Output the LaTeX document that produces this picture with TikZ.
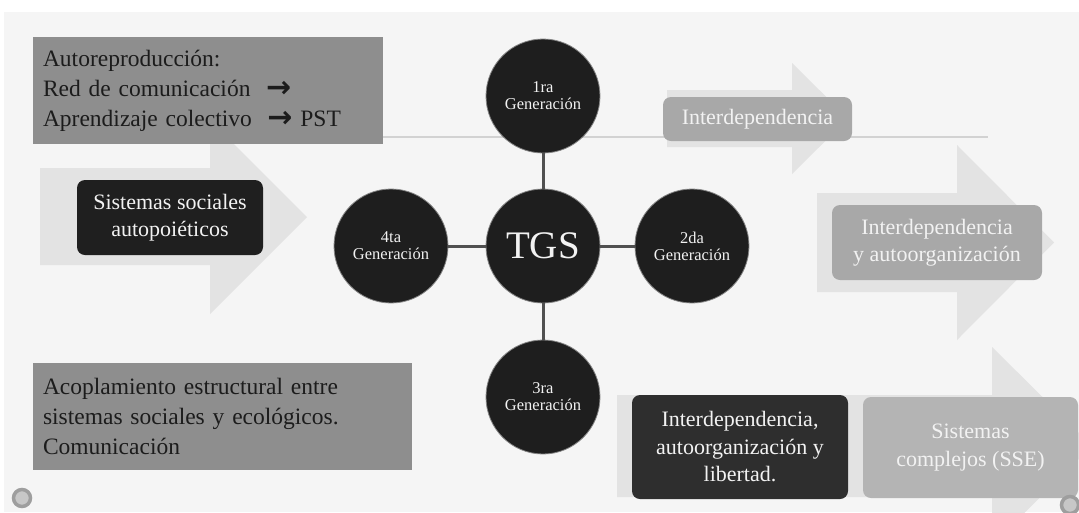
\documentclass[tikz,border=0pt]{standalone}
\usepackage{fontspec}
\setmainfont{Liberation Serif}
\newfontfamily\arrowfont{DejaVu Sans}
\definecolor{slidebg}{HTML}{F5F5F5}
\definecolor{arrowfill}{HTML}{E3E3E3}
\definecolor{guide}{HTML}{D2D2D2}
\definecolor{link}{HTML}{505050}
\definecolor{disc}{HTML}{1E1E1E}
\definecolor{darkbox}{HTML}{1F1F1F}
\definecolor{darkbox2}{HTML}{2E2E2E}
\definecolor{notebox}{HTML}{8E8E8E}
\definecolor{midbox}{HTML}{A8A8A8}
\definecolor{lightbox}{HTML}{B4B4B4}
\definecolor{inktext}{HTML}{1C1C1C}
\definecolor{paletext}{HTML}{F2F2F2}
\newcommand{\rarr}{\raisebox{-1pt}{\arrowfont\bfseries\fontsize{30}{30}\selectfont →}}
\begin{document}
\begin{tikzpicture}[x=1pt,y=-1pt,
  gen/.style={circle, fill=disc, draw=link!70, line width=0.8pt, minimum size=114pt,
    inner sep=0pt, text=paletext, align=center, font=\fontsize{16.5}{17}\selectfont},
  conn/.style={draw=link, line width=3pt},
  notebox/.style={rectangle, fill=notebox, text=inktext, align=left, inner sep=0pt,
    font=\fontsize{23.5}{30}\selectfont},
  darkbox/.style={rectangle, rounded corners=8pt, fill=darkbox, text=paletext, align=center,
    inner sep=0pt, font=\fontsize{22}{27.5}\selectfont},
  greybox/.style={rectangle, rounded corners=8pt, fill=midbox, text=paletext, align=center,
    inner sep=0pt, font=\fontsize{22}{27.5}\selectfont},
  bgarrow/.style={fill=arrowfill},
  navbtn/.style={circle, draw=black!38, line width=3.5pt, fill=black!22, minimum size=17pt, inner sep=0pt}
]
\useasboundingbox (0,0) rectangle (1079,512);
\begin{scope}
\clip (0,0) rectangle (1079,512);
% page and slide area
\fill[white] (0,0) rectangle (1079,512);
\fill[slidebg] (4,12) rectangle (1079,512);

% broad background arrows
\fill[bgarrow] (40,168) -- (210,168) -- (210,120) -- (307,217) -- (210,314) -- (210,265) -- (40,265) -- cycle;
\fill[bgarrow] (667,90) -- (792,90) -- (792,63) -- (848,118.5) -- (792,174) -- (792,147) -- (667,147) -- cycle;
\fill[bgarrow] (817,193) -- (957,193) -- (957,145) -- (1054,242.5) -- (957,340) -- (957,292) -- (817,292) -- cycle;
\fill[bgarrow] (617,395) -- (992,395) -- (992,347) -- (1092,446) -- (992,545) -- (992,497) -- (617,497) -- cycle;

% thin guide line across the top
\coordinate (guideL) at (383,137);
\coordinate (guideR) at (988,137);
\draw[guide, line width=2.5pt] (guideL) -- (guideR);

% central hub and generations
\node[gen, font=\fontsize{39}{40}\selectfont] (tgs) at (543,246) {TGS};
\node[gen] (g1) at (543,96)  {1ra\\Generación};
\node[gen] (g2) at (692,246) {2da\\Generación};
\node[gen] (g3) at (543,397) {3ra\\Generación};
\node[gen] (g4) at (391,246) {4ta\\Generación};
\draw[conn] (tgs) -- (g1);
\draw[conn] (tgs) -- (g2);
\draw[conn] (tgs) -- (g3);
\draw[conn] (tgs) -- (g4);

% note boxes on the left
\node[notebox, minimum width=350pt, minimum height=107pt, text width=330pt] (auto) at (208,90.5)
  {Autoreproducción:\\Red de comunicación \ \rarr\\Aprendizaje colectivo \ \rarr\ PST};
\node[notebox, minimum width=379pt, minimum height=107pt, text width=359pt] (acop) at (222.5,416.5)
  {Acoplamiento estructural entre\\sistemas sociales y ecológicos.\\Comunicación};

% labelled boxes
\node[darkbox, minimum width=186pt, minimum height=75pt] (ssa) at (170,217.5)
  {Sistemas sociales\\autopoiéticos};
\node[greybox, minimum width=189pt, minimum height=44pt] (inter) at (757.5,119)
  {Interdependencia};
\node[greybox, minimum width=210pt, minimum height=75pt] (interauto) at (937,242.5)
  {Interdependencia\\y autoorganización};
\node[darkbox, fill=darkbox2, minimum width=216pt, minimum height=104pt] (interlib) at (740,447)
  {Interdependencia,\\autoorganización y\\libertad.};
\node[greybox, fill=lightbox, minimum width=215pt, minimum height=101pt] (sse) at (970.5,447.5)
  {Sistemas\\complejos (SSE)};

% navigation buttons in the corners
\node[navbtn] (prev) at (22,498) {};
\node[navbtn] (next) at (1070,505) {};
\end{scope}
\end{tikzpicture}
\end{document}
